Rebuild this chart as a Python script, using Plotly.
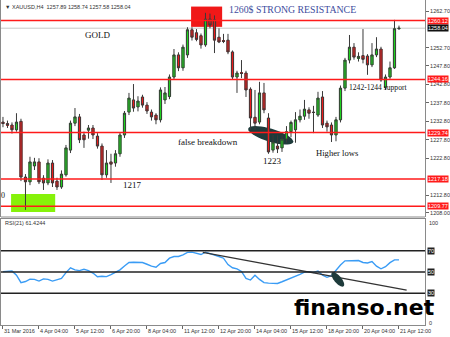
import numpy as np
import plotly.graph_objects as go

# ---------------- data ----------------
opens = [1232.6,1232.2,1231.8,1230.5,1232.8,1217.7,1216.4,1220.7,1221.8,1217.4,
         1216.1,1221.5,1216.6,1215.0,1218.3,1225.0,1232.3,1234.0,1229.1,1230.4,
         1231.0,1228.8,1226.1,1218.3,1221.8,1221.5,1224.0,1229.1,1235.3,1238.6,
         1236.7,1239.4,1237.2,1235.3,1234.5,1233.2,1238.6,1239.5,1244.8,1250.8,
         1247.3,1250.8,1257.6,1256.8,1256.0,1253.5,1260.5,1260.3,1255.6,1254.6,
         1254.8,1251.6,1244.8,1245.9,1245.9,1241.5,1233.9,1232.6,1240.5,1233.7,
         1225.0,1226.1,1225.6,1228.0,1230.0,1230.5,1233.2,1234.2,1235.9,1235.3,
         1234.5,1239.4,1232.3,1231.8,1229.1,1233.2,1241.8,1249.4,1252.9,1249.9,
         1250.6,1250.5,1248.1,1250.8,1252.4,1242.0,1244.8,1247.3,1257.89]
highs = [1234.0,1233.0,1232.5,1235.0,1233.5,1218.5,1223.2,1222.9,1222.8,1218.2,
         1222.5,1222.3,1217.5,1219.5,1226.4,1233.0,1236.4,1234.8,1230.0,1231.8,
         1231.8,1229.6,1226.8,1225.0,1224.0,1225.0,1229.8,1235.6,1240.5,1242.9,
         1239.6,1240.0,1238.0,1236.0,1235.0,1242.0,1242.1,1245.5,1252.4,1251.5,
         1253.6,1258.3,1258.3,1257.8,1256.6,1262.2,1262.0,1261.5,1258.0,1256.5,
         1256.5,1252.0,1246.5,1249.4,1246.5,1242.0,1241.3,1243.5,1243.2,1235.0,
         1229.1,1229.0,1229.1,1231.5,1233.0,1235.3,1236.0,1238.6,1236.6,1237.0,
         1240.8,1241.0,1233.0,1232.5,1234.0,1242.5,1250.0,1256.2,1254.0,1251.5,
         1257.8,1251.0,1254.0,1255.6,1253.0,1245.5,1249.0,1260.3,1258.74]
lows = [1231.2,1231.0,1229.5,1230.0,1216.6,1208.8,1215.5,1219.6,1215.8,1214.2,
        1215.5,1215.0,1214.2,1214.5,1217.8,1224.2,1231.5,1226.9,1225.6,1228.1,
        1228.0,1225.4,1216.9,1217.5,1216.1,1220.5,1223.2,1228.3,1234.5,1235.4,
        1235.5,1236.5,1234.8,1233.0,1232.0,1232.5,1237.5,1238.8,1244.0,1246.4,
        1246.5,1250.0,1254.7,1254.5,1252.5,1253.0,1258.0,1251.3,1254.0,1254.0,
        1251.0,1244.0,1240.5,1244.5,1239.4,1230.5,1230.5,1232.0,1235.0,1224.0,
        1224.3,1224.2,1224.5,1227.0,1228.5,1227.0,1232.5,1233.2,1233.5,1229.6,
        1234.0,1231.0,1230.0,1227.2,1227.4,1232.5,1241.0,1248.5,1249.5,1249.0,
        1248.5,1245.4,1247.5,1250.2,1243.5,1241.3,1244.3,1247.0,1257.58]
closes = [1232.2,1231.8,1230.5,1232.6,1217.7,1216.4,1221.8,1221.8,1216.4,1216.1,
          1221.5,1216.1,1215.0,1218.5,1225.6,1232.3,1234.0,1227.8,1227.8,1231.0,
          1229.1,1226.1,1218.3,1221.5,1221.2,1224.0,1229.1,1235.0,1239.1,1236.4,
          1238.3,1237.2,1235.6,1234.0,1233.2,1241.3,1240.5,1244.8,1250.8,1247.3,
          1252.9,1257.6,1255.6,1255.0,1253.5,1260.5,1258.9,1254.8,1254.3,1254.5,
          1251.6,1244.8,1245.9,1245.8,1241.3,1233.7,1232.3,1240.5,1235.9,1224.5,
          1227.2,1225.3,1228.0,1230.0,1232.5,1233.2,1234.2,1236.1,1235.0,1235.2,
          1239.1,1231.8,1231.3,1229.1,1233.2,1241.8,1249.4,1252.9,1250.2,1250.4,
          1249.6,1248.1,1250.8,1252.4,1244.0,1244.8,1247.3,1257.9,1258.04]
rsi = [50.3,50.5,51.0,47.0,40.0,41.0,43.3,43.0,41.4,43.5,
       43.0,41.4,42.5,44.0,49.4,54.0,52.0,51.3,52.5,51.3,
       49.0,45.5,46.0,45.6,47.5,49.5,52.0,55.7,58.9,59.2,
       59.0,58.9,57.3,55.5,54.5,58.0,58.9,63.0,64.6,64.6,
       66.2,68.5,68.7,67.8,66.5,68.7,67.5,66.0,64.6,63.0,
       57.0,54.0,52.9,50.5,44.0,42.4,47.0,43.0,40.0,39.5,
       39.2,39.2,40.8,42.4,44.3,46.2,47.8,49.8,50.3,49.6,
       50.8,47.0,45.0,46.5,52.0,56.5,60.5,60.8,60.5,60.8,
       59.0,58.5,59.8,55.5,53.0,55.0,58.8,61.4,61.42]
tick_labels = ["31 Mar 2016", "4 Apr 04:00", "5 Apr 12:00", "6 Apr 20:00",
               "8 Apr 04:00", "11 Apr 12:00", "12 Apr 20:00", "14 Apr 04:00",
               "15 Apr 12:00", "18 Apr 20:00", "20 Apr 04:00", "21 Apr 12:00"]
levels = [1260.12, 1244.16, 1229.74, 1217.18, 1209.77]
bid = 1258.04
price_ticks = [1262.70, 1252.70, 1247.80, 1242.80, 1237.80, 1232.80,
               1227.80, 1222.80, 1212.80, 1208.00]
rsi_levels = [70, 50, 30]
rsi_trend = ([44.4, 89.7], [68.4, 33.0])

# ---------------- geometry ----------------
W, Hh = 450, 337
ML, MR, MT, MB = 1, 25, 0, 12
x_range = [-0.44, 93.78]
y_range = [1206.87, 1265.68]
main_dom = [0.3323, 1.0]
rsi_dom = [0.0, 0.3262]

idx = list(range(len(opens)))
GREEN = "#1fd21f"
RED = "#e81c1c"
WICK = "#3a3a3a"

fig = go.Figure()
fig.add_trace(go.Candlestick(
    x=idx, open=opens, high=highs, low=lows, close=closes,
    increasing=dict(line=dict(color=WICK, width=1), fillcolor=GREEN),
    decreasing=dict(line=dict(color=WICK, width=1), fillcolor=RED),
    whiskerwidth=0, xaxis="x", yaxis="y", showlegend=False, hoverinfo="skip"))
base = [min(o, c) for o, c in zip(opens, closes)]
hgt = [abs(c - o) for o, c in zip(opens, closes)]
cols = [GREEN if c >= o else RED for o, c in zip(opens, closes)]
fig.add_trace(go.Bar(x=idx, y=hgt, base=base, marker=dict(color=cols, line=dict(width=0)),
                     width=0.62, xaxis="x", yaxis="y", showlegend=False, hoverinfo="skip"))
fig.add_trace(go.Scatter(x=idx, y=rsi, mode="lines", line=dict(color="#3a9cf5", width=1.4),
                         xaxis="x", yaxis="y2", showlegend=False, hoverinfo="skip"))
fig.add_trace(go.Scatter(x=rsi_trend[0], y=rsi_trend[1], mode="lines",
                         line=dict(color="#333333", width=1.3),
                         xaxis="x", yaxis="y2", showlegend=False, hoverinfo="skip"))

shapes = []
shapes.append(dict(type="rect", xref="x", yref="y", x0=41.8, x1=48.7, y0=1258.4, y1=1263.9,
                   fillcolor="#f01818", line=dict(width=0), layer="below"))
shapes.append(dict(type="rect", xref="x", yref="y", x0=1.8, x1=11.6, y0=1208.2, y1=1213.1,
                   fillcolor="#86f20a", line=dict(width=0), layer="below"))

px_per_bar = (W - ML - MR) / (x_range[1] - x_range[0])
plot_h = Hh - MT - MB
main_px = plot_h * (main_dom[1] - main_dom[0])
px_per_price = main_px / (y_range[1] - y_range[0])
rsi_px = plot_h * (rsi_dom[1] - rsi_dom[0])
px_per_rsi = rsi_px / 100.0

def ellipse_path(cx, cy, a, b, ang_deg, sx, sy):
    t = np.linspace(0, 2 * np.pi, 40)
    th = np.radians(ang_deg)
    dx = a * np.cos(t) * np.cos(th) - b * np.sin(t) * np.sin(th)
    dy = a * np.cos(t) * np.sin(th) + b * np.sin(t) * np.cos(th)
    xs = cx + dx / sx
    ys = cy - dy / sy
    return "M " + " L ".join(f"{x:.4f},{y:.4f}" for x, y in zip(xs, ys)) + " Z"

shapes.append(dict(type="path", xref="x", yref="y",
                   path=ellipse_path(59.5, 1229.0, 23.5, 6.5, 17, px_per_bar, px_per_price),
                   fillcolor="#1e3b3b", line=dict(width=0), layer="below"))
shapes.append(dict(type="path", xref="x", yref="y2",
                   path=ellipse_path(74.4, 43.0, 9.0, 3.6, 50, px_per_bar, px_per_rsi),
                   fillcolor="#1e3b3b", line=dict(width=0), layer="above"))

for lv in levels:
    shapes.append(dict(type="line", xref="paper", yref="y", x0=0, x1=1, y0=lv, y1=lv,
                       line=dict(color="#ff1a1a", width=1.5)))
shapes.append(dict(type="line", xref="paper", yref="y", x0=0, x1=1, y0=bid, y1=bid,
                   line=dict(color="#c8c8c8", width=1), layer="below"))
for lv in rsi_levels:
    shapes.append(dict(type="line", xref="paper", yref="y2", x0=0, x1=1, y0=lv, y1=lv,
                       line=dict(color="#222222", width=1.5)))
shapes.append(dict(type="line", xref="paper", yref="paper", x0=0, x1=1,
                   y0=main_dom[0], y1=main_dom[0], line=dict(color="#8a8a8a", width=1)))

ann = []
small = dict(family="Liberation Sans, Arial, sans-serif", size=5.5, color="#333333")
for lv in levels:
    ann.append(dict(xref="paper", yref="y", x=1, y=lv, xanchor="left", yanchor="middle",
                    xshift=2, text=f"{lv:.2f}", showarrow=False, bgcolor="#ff1a1a",
                    borderpad=0, font=dict(small, color="white")))
ann.append(dict(xref="paper", yref="y", x=1, y=bid, xanchor="left", yanchor="middle",
                xshift=2, text=f"{bid:.2f}", showarrow=False, bgcolor="#111111",
                borderpad=0, font=dict(small, color="white")))
for lv in rsi_levels:
    ann.append(dict(xref="paper", yref="y2", x=1, y=lv, xanchor="left", yanchor="middle",
                    xshift=2, text=str(lv), showarrow=False, bgcolor="#222222",
                    borderpad=0, font=dict(small, color="white")))
ann.append(dict(xref="paper", yref="y2", x=1, y=96, xanchor="left", yanchor="middle",
                xshift=2, text="100", showarrow=False, font=small))
ann.append(dict(xref="paper", yref="y2", x=1, y=2, xanchor="left", yanchor="middle",
                xshift=2, text="0", showarrow=False, font=small))
ann.append(dict(xref="paper", yref="paper", x=0, y=1, xanchor="left", yanchor="top",
                xshift=2, yshift=-2, text="▼ XAUUSD,H4  1257.89 1258.74 1257.58 1258.04",
                showarrow=False, font=small))
ann.append(dict(xref="paper", yref="y2", x=0, y=96, xanchor="left", yanchor="middle",
                xshift=2, text="RSI(21) 61.4244", showarrow=False, font=small))

serif = "Liberation Serif, Times New Roman, serif"
def txt(xb, yp, s, size=9, color="#111111", yref="y"):
    ann.append(dict(xref="x", yref=yref, x=xb, y=yp, text=s, showarrow=False,
                    xanchor="center", yanchor="middle",
                    font=dict(family=serif, size=size, color=color)))

txt(20.9, 1256.2, "GOLD", 9)
txt(64.4, 1263.0, "1260$ STRONG RESISTANCE", 9.8, "#3e4c9e")
txt(83.3, 1242.1, "1242-1244 support", 7.6)
txt(45.6, 1227.2, "false breakdown", 9)
txt(59.8, 1222.0, "1223", 9)
txt(74.4, 1224.3, "Higher lows", 8.6)
txt(28.7, 1215.5, "1217", 9)
txt(0.1, 1212.7, "0", 8)

ann.append(dict(xref="paper", yref="paper", x=(364 - ML) / (W - ML - MR),
                y=(Hh - MB - 307) / plot_h, xanchor="center", yanchor="middle",
                text="finanso.net", showarrow=False,
                font=dict(family="DejaVu Sans", size=22, color="black", weight="bold")))

fig.update_layout(
    width=W, height=Hh, margin=dict(l=ML, r=MR, t=MT, b=MB, autoexpand=False),
    paper_bgcolor="white", plot_bgcolor="white", barmode="overlay",
    showlegend=False, shapes=shapes, annotations=ann,
    font=small,
    xaxis=dict(range=x_range, anchor="y2", showgrid=False, zeroline=False,
               tickvals=list(range(0, 89, 8)), ticktext=tick_labels, tickangle=0,
               ticks="outside", ticklen=3, tickcolor="#666", tickfont=small,
               ticklabelposition="outside right", automargin=False,
               showline=True, linecolor="#8a8a8a", linewidth=1, mirror=True,
               rangeslider=dict(visible=False)),
    yaxis=dict(domain=main_dom, range=y_range, side="right", showgrid=False,
               zeroline=False, tickvals=price_ticks, automargin=False,
               ticktext=[f"{v:.2f}" for v in price_ticks],
               ticks="outside", ticklen=3, tickcolor="#666", tickfont=small,
               showline=True, linecolor="#8a8a8a", linewidth=1, mirror=True),
    yaxis2=dict(domain=rsi_dom, range=[0, 100], side="right", showgrid=False,
                zeroline=False, showticklabels=False, ticks="", automargin=False,
                showline=True, linecolor="#8a8a8a", linewidth=1, mirror=True),
)

fig.write_html("out.html")
